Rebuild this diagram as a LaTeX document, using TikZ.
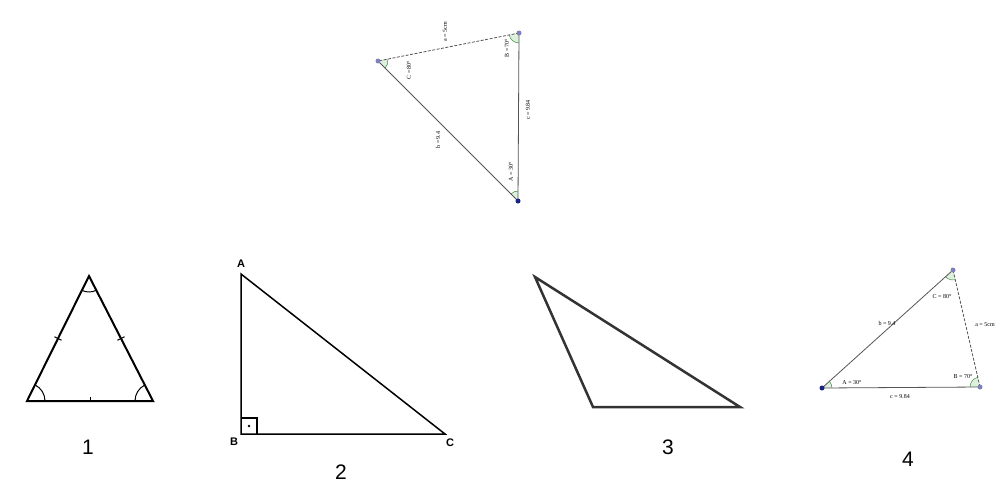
\documentclass[tikz,border=0pt]{standalone}
\usepackage{fontspec}
\newfontfamily\arial{Liberation Sans}
\newfontfamily\smallserif{Liberation Serif}
\usetikzlibrary{angles,calc}
\definecolor{ptdark}{HTML}{1A237E}
\definecolor{ptlight}{HTML}{7E82B8}
\definecolor{geoline}{HTML}{555555}
\definecolor{sector}{HTML}{DDF0DD}
\definecolor{sectorline}{HTML}{3E8E3E}
\tikzset{
  numlabel/.style={font=\arial\fontsize{21}{24}\selectfont, inner sep=0pt},
  vlabel/.style={font=\arial\bfseries\fontsize{11}{12}\selectfont, inner sep=0pt},
  geolabel/.style={font=\smallserif\fontsize{6}{7}\selectfont, inner sep=0pt},
  geoside/.style={draw=geoline, line width=0.8pt},
  geodash/.style={draw=geoline, line width=0.8pt, dash pattern=on 3pt off 1.5pt},
  geosec/.style={draw=sectorline, fill=sector, line width=0.5pt, angle radius=10pt},
  ptdot/.style={circle, inner sep=0pt, minimum size=5pt},
  tri/.style={line width=2pt, line join=miter},
  tick/.style={line width=1pt},
  arcstyle/.style={draw, line width=1pt, angle radius=18pt}
}
\begin{document}
\begin{tikzpicture}[x=1pt,y=-1pt]
\useasboundingbox (0,0) rectangle (1003,498);

% ---------- Triangle 1 (isosceles/equilateral) ----------
\coordinate (P1a) at (89,276);
\coordinate (P1b) at (27,401);
\coordinate (P1c) at (153,401);
\draw[tri] (P1a) -- (P1b) -- (P1c) -- cycle;
\pic[arcstyle] {angle = P1c--P1b--P1a};
\pic[arcstyle] {angle = P1a--P1c--P1b};
\pic[arcstyle, angle radius=16pt] {angle = P1b--P1a--P1c};
\draw[tick] ($(P1a)!0.5!(P1b)!4pt!90:(P1b)$) -- ($(P1a)!0.5!(P1b)!4pt!-90:(P1b)$);
\draw[tick] ($(P1a)!0.5!(P1c)!4pt!90:(P1c)$) -- ($(P1a)!0.5!(P1c)!4pt!-90:(P1c)$);
\draw[tick] ($(P1b)!0.5!(P1c)$) -- ($(P1b)!0.5!(P1c)!4pt!90:(P1c)$);
\node[numlabel] (n1) at (88,447) {1};

% ---------- Triangle 2 (right triangle) ----------
\coordinate (A2) at (241,274);
\coordinate (B2) at (241,434);
\coordinate (C2) at (445,434);
\draw[line width=1.5pt] (A2) -- (B2) -- (C2) -- cycle;
\draw[line width=1.2pt] (241,418) -- (257,418) -- (257,434);
\fill (249,426) circle (1.3pt);
\node[vlabel] (lA2) at (241,264) {A};
\node[vlabel] (lB2) at (234,442) {B};
\node[vlabel] (lC2) at (450,443) {C};
\node[numlabel] (n2) at (341,472) {2};

% ---------- Triangle 3 (obtuse) ----------
\coordinate (P3a) at (535,277);
\coordinate (P3b) at (593,407);
\coordinate (P3c) at (740,407);
\draw[line width=2.5pt, draw=black!80, line join=miter] (P3a) -- (P3b) -- (P3c) -- cycle;
\node[numlabel] (n3) at (668,447) {3};

% ---------- Triangle 4 (labelled) ----------
\coordinate (A4) at (822,388);
\coordinate (B4) at (980,387);
\coordinate (C4) at (953,270);
\pic[geosec] {angle = B4--A4--C4};
\pic[geosec] {angle = C4--B4--A4};
\pic[geosec] {angle = A4--C4--B4};
\draw[geoside] (A4) -- (B4);
\draw[geoside] (A4) -- (C4);
\draw[geodash] (B4) -- (C4);
\node[ptdot, fill=ptdark] (dA4) at (A4) {};
\node[ptdot, fill=ptlight] (dB4) at (B4) {};
\node[ptdot, fill=ptlight] (dC4) at (C4) {};
\node[geolabel] (lb4) at (887,323) {b = 9.4};
\node[geolabel] (lCang4) at (942,297) {C = 80°};
\node[geolabel] (la4) at (985,325) {a = 5cm};
\node[geolabel] (lAang4) at (852,383) {A = 30°};
\node[geolabel] (lBang4) at (963,377) {B = 70°};
\node[geolabel] (lc4) at (900,397) {c = 9.84};
\node[numlabel] (n4) at (908,459) {4};

% ---------- Top triangle (rotated copy) ----------
\coordinate (At) at (518,201);
\coordinate (Bt) at (519,33);
\coordinate (Ct) at (378,61);
\pic[geosec] {angle = Bt--At--Ct};
\pic[geosec] {angle = Ct--Bt--At};
\pic[geosec] {angle = At--Ct--Bt};
\draw[geoside] (At) -- (Bt);
\draw[geoside] (At) -- (Ct);
\draw[geodash] (Bt) -- (Ct);
\node[ptdot, fill=ptdark] (dAt) at (At) {};
\node[ptdot, fill=ptlight] (dBt) at (Bt) {};
\node[ptdot, fill=ptlight] (dCt) at (Ct) {};
\node[geolabel, rotate=90] (lbt) at (438,140) {b = 9.4};
\node[geolabel, rotate=90] (lCangt) at (409,70) {C = 80°};
\node[geolabel, rotate=90] (lat) at (445,32) {a = 5cm};
\node[geolabel, rotate=90] (lAangt) at (511,172) {A = 30°};
\node[geolabel, rotate=90] (lBangt) at (507,48) {B = 70°};
\node[geolabel, rotate=90] (lct) at (528,110) {c = 9.84};
\end{tikzpicture}
\end{document}
